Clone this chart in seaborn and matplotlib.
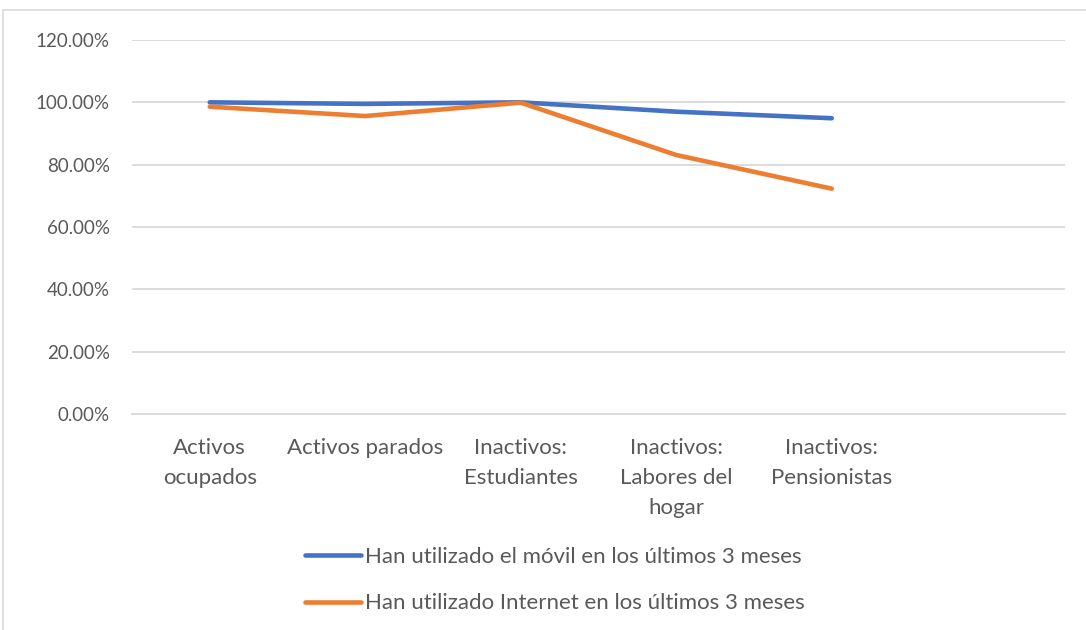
import numpy as np
import pandas as pd
import seaborn as sns
import matplotlib.pyplot as plt
from matplotlib.patches import Rectangle
from matplotlib.ticker import PercentFormatter

categories = ['Activos\nocupados', 'Activos parados', 'Inactivos:\nEstudiantes',
              'Inactivos:\nLabores del\nhogar', 'Inactivos:\nPensionistas', '']
movil = [1.000, 0.995, 1.000, 0.970, 0.949, np.nan]
internet = [0.986, 0.956, 0.999, 0.831, 0.723, np.nan]
series = ['Han utilizado el móvil en los últimos 3 meses',
          'Han utilizado Internet en los últimos 3 meses']

df = pd.DataFrame({
    'pos': list(range(len(categories))) * 2,
    'valor': movil + internet,
    'serie': [series[0]] * len(categories) + [series[1]] * len(categories),
})

sns.set_style('white')
plt.rcParams['font.family'] = ['Lato', 'DejaVu Sans']
text_color = '#595959'

fig = plt.figure(figsize=(10.86, 6.3), dpi=100)
ax = fig.add_axes([132 / 1086, 1 - 414 / 630, (1065 - 132) / 1086, (414 - 40) / 630])

sns.lineplot(data=df, x='pos', y='valor', hue='serie', ax=ax, sort=False,
             palette=['#4472C4', '#ED7D31'], linewidth=3.3,
             solid_capstyle='round', solid_joinstyle='round', legend=False)

ax.set_xlim(-0.5, len(categories) - 0.5)
ax.set_ylim(0, 1.2)
ax.set_yticks(np.arange(0, 1.21, 0.2))
ax.yaxis.set_major_formatter(PercentFormatter(1.0, decimals=2))
ax.set_xticks(range(len(categories)))
ax.set_xticklabels(categories, va='top', linespacing=1.65)
ax.tick_params(axis='both', length=0, colors=text_color)
ax.tick_params(axis='x', pad=17, labelsize=16)
ax.tick_params(axis='y', pad=16, labelsize=13.5)
ax.grid(axis='y', color='#D9D9D9', linewidth=1.3)
ax.set_axisbelow(True)
for side in ['top', 'right', 'left']:
    ax.spines[side].set_visible(False)
ax.spines['bottom'].set_color('#D9D9D9')
ax.spines['bottom'].set_linewidth(1.3)
ax.set_xlabel('')
ax.set_ylabel('')

handles = [plt.Line2D([], [], color=c, linewidth=3.3, solid_capstyle='round')
           for c in ['#4472C4', '#ED7D31']]
fig.legend(handles, series, loc='center left', bbox_to_anchor=(285 / 1086, 1 - 580 / 630),
           frameon=False, fontsize=16, labelcolor=text_color, handlelength=2.5,
           handletextpad=0.2, labelspacing=1.2)

fig.patches.append(Rectangle((3 / 1086, -0.1), 1.2, 1.1 - 10 / 630,
                             transform=fig.transFigure, fill=False,
                             edgecolor='#D9D9D9', linewidth=1.2))

fig.savefig('out.png', dpi=100)
